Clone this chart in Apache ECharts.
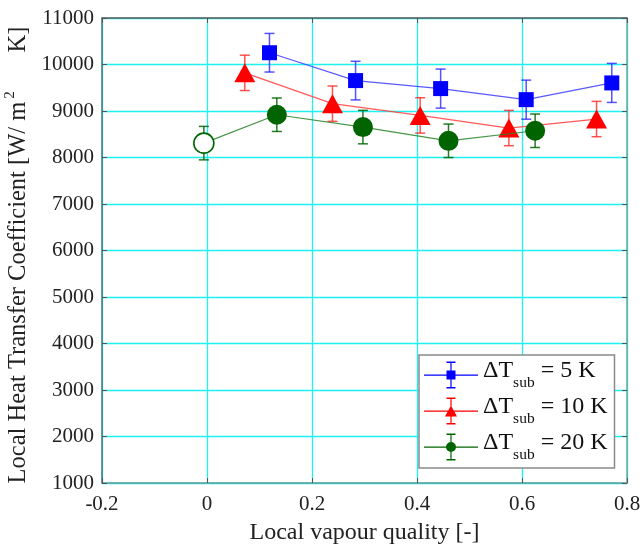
<!DOCTYPE html>
<html>
<head>
<meta charset="utf-8">
<script src="https://cdn.jsdelivr.net/npm/echarts@6/dist/echarts.min.js"></script>
<style>html,body{margin:0;padding:0;background:#fff}#c{width:640px;height:549px}</style>
</head>
<body>
<div id="c"></div>
<script>
// ---- data ----
const blueX = [0.119, 0.283, 0.445, 0.608, 0.771];
const blueY = [10253, 9654, 9482, 9244, 9604];
const blueErr = [415, 415, 420, 420, 420];

const redX = [0.072, 0.239, 0.406, 0.575, 0.742];
const redY = [9820, 9158, 8905, 8633, 8827];
const redErr = [380, 380, 380, 380, 380];

const greenX = [-0.006, 0.133, 0.297, 0.460, 0.625];
const greenY = [8309, 8920, 8654, 8359, 8575];
const greenErr = [360, 360, 360, 360, 360];

const legendLabels = ['5 K', '10 K', '20 K'];
const seriesNames = ['dT5', 'dT10', 'dT20'];

// ---- build ----
const FONT = 'Liberation Serif';
function pts(xs, ys) { return xs.map((x, i) => [x, ys[i]]); }
function errs(xs, ys, es) { return xs.map((x, i) => [x, ys[i] - es[i], ys[i] + es[i]]); }

function errRender(color) {
  return function (params, api) {
    const x = api.value(0), lo = api.value(1), hi = api.value(2);
    const a = api.coord([x, lo]), b = api.coord([x, hi]);
    const hw = 5;
    const st = { stroke: color, lineWidth: 1.5 };
    return {
      type: 'group',
      children: [
        { type: 'line', shape: { x1: a[0], y1: a[1], x2: b[0], y2: b[1] }, style: st },
        { type: 'line', shape: { x1: a[0] - hw, y1: a[1], x2: a[0] + hw, y2: a[1] }, style: st },
        { type: 'line', shape: { x1: b[0] - hw, y1: b[1], x2: b[0] + hw, y2: b[1] }, style: st }
      ]
    };
  };
}

const cols = { blue: '#0000ff', red: '#ff0000', green: '#006400' };
const lineCols = { blue: 'rgba(60,60,255,0.85)', red: 'rgba(255,60,60,0.85)', green: 'rgba(40,130,40,0.85)' };
const errCols = { blue: 'rgba(40,40,255,0.8)', red: 'rgba(255,40,40,0.8)', green: 'rgba(0,100,0,0.85)' };

const barH = 'M0 13 H54 V14.2 H0 Z ';
const errV = 'M26.4 0 H27.6 V27 H26.4 Z M22.5 0 H31.5 V1.4 H22.5 Z M22.5 25.6 H31.5 V27 H22.5 Z ';
const iconSquare = 'path://' + barH + errV + 'M22.5 9 H31.5 V18 H22.5 Z';
const iconTri = 'path://' + barH + errV + 'M21 19 L27 8 L33 19 Z';
const iconCirc = 'path://' + barH + errV + 'M22 13.5 A5 5 0 1 1 32 13.5 A5 5 0 1 1 22 13.5 Z';

const greenData = pts(greenX, greenY).map((p, i) => i === 0
  ? { value: p, itemStyle: { color: '#ffffff', borderColor: cols.green, borderWidth: 1.6 } }
  : p);

const chart = echarts.init(document.getElementById('c'), null, { renderer: 'canvas' });
chart.setOption({
  animation: false,
  backgroundColor: '#ffffff',
  textStyle: { fontFamily: FONT },
  grid: { left: 102, right: 13, top: 18, bottom: 66, containLabel: false, outerBoundsMode: 'none' },
  xAxis: [{
    type: 'value', min: -0.2, max: 0.8, interval: 0.2, position: 'bottom',
    axisLine: { show: true, onZero: false, lineStyle: { color: '#5f9c9c', width: 1.5 } },
    axisTick: { show: true, inside: true, length: 5, lineStyle: { color: '#555' } },
    axisLabel: { fontFamily: FONT, fontSize: 21, color: '#222', margin: 11,
      formatter: v => (Math.round(v * 10) / 10).toString() },
    splitLine: { show: true, lineStyle: { color: '#1ff0f0', width: 1.3 } },
    name: 'Local vapour quality [-]', nameLocation: 'middle', nameGap: 38,
    nameTextStyle: { fontFamily: FONT, fontSize: 24, color: '#222', verticalAlign: 'top' }
  }, {
    type: 'value', min: -0.2, max: 0.8, interval: 0.2, position: 'top',
    axisLine: { show: true, onZero: false, lineStyle: { color: '#5a5a5a', width: 1.5 } },
    axisTick: { show: true, inside: true, length: 5, lineStyle: { color: '#555' } },
    axisLabel: { show: false }, splitLine: { show: false }
  }],
  yAxis: [{
    type: 'value', min: 1000, max: 11000, interval: 1000, position: 'left',
    axisLine: { show: true, onZero: false, lineStyle: { color: '#4a7575', width: 1.5 } },
    axisTick: { show: true, inside: true, length: 5, lineStyle: { color: '#555' } },
    axisLabel: { fontFamily: FONT, fontSize: 21, color: '#222', margin: 8,
      formatter: v => String(v) },
    splitLine: { show: true, lineStyle: { color: '#1ff0f0', width: 1.3 } },
    name: '{a|Local Heat Transfer Coefficient [W/ m}{sup|2}{a|      K]}',
    nameLocation: 'middle', nameGap: 58, nameRotate: 90,
    nameTextStyle: {
      fontFamily: FONT, color: '#222', padding: [0, 9, 0, 0],
      rich: {
        a: { fontFamily: FONT, fontSize: 24.5, color: '#222', verticalAlign: 'bottom', lineHeight: 28 },
        sup: { fontFamily: FONT, fontSize: 15, color: '#222', verticalAlign: 'top', lineHeight: 14, padding: [0, 2, 0, 3] }
      }
    }
  }, {
    type: 'value', min: 1000, max: 11000, interval: 1000, position: 'right',
    axisLine: { show: true, onZero: false, lineStyle: { color: '#6aa8a8', width: 1.5 } },
    axisTick: { show: true, inside: true, length: 5, lineStyle: { color: '#555' } },
    axisLabel: { show: false }, splitLine: { show: false }
  }],
  legend: {
    orient: 'vertical', left: 419, top: 355,
    backgroundColor: '#ffffff', borderColor: '#8a8a8a', borderWidth: 1.5, borderRadius: 0,
    padding: [4, 7, 5, 5], itemGap: 4, itemWidth: 54, itemHeight: 27,
    selectedMode: false,
    itemStyle: { borderWidth: 0 },
    data: [
      { name: seriesNames[0], icon: iconSquare },
      { name: seriesNames[1], icon: iconTri },
      { name: seriesNames[2], icon: iconCirc }
    ],
    formatter: function (name) {
      const i = seriesNames.indexOf(name);
      return '{a|\u0394T}{s|sub}{a| = ' + legendLabels[i] + '}';
    },
    textStyle: {
      fontFamily: FONT, color: '#111',
      rich: {
        a: { fontFamily: FONT, fontSize: 24, color: '#111', verticalAlign: 'top', lineHeight: 32 },
        s: { fontFamily: FONT, fontSize: 15.5, color: '#111', verticalAlign: 'bottom', lineHeight: 32 }
      }
    }
  },
  series: [
    { type: 'custom', name: 'errBlue', renderItem: errRender(errCols.blue), data: errs(blueX, blueY, blueErr), z: 3, encode: { x: 0, y: [1, 2] } },
    { type: 'line', name: seriesNames[0], data: pts(blueX, blueY), symbol: 'rect', symbolSize: 15,
      itemStyle: { color: cols.blue }, lineStyle: { color: lineCols.blue, width: 1.2 }, z: 4 },
    { type: 'custom', name: 'errRed', renderItem: errRender(errCols.red), data: errs(redX, redY, redErr), z: 5, encode: { x: 0, y: [1, 2] } },
    { type: 'line', name: seriesNames[1], data: pts(redX, redY), symbol: 'triangle', symbolSize: [21, 19],
      itemStyle: { color: cols.red }, lineStyle: { color: lineCols.red, width: 1.2 }, z: 6 },
    { type: 'custom', name: 'errGreen', renderItem: errRender(errCols.green), data: errs(greenX, greenY, greenErr), z: 7, encode: { x: 0, y: [1, 2] } },
    { type: 'line', name: seriesNames[2], data: greenData, symbol: 'circle', symbolSize: 20,
      itemStyle: { color: cols.green }, lineStyle: { color: lineCols.green, width: 1.2 }, z: 8 }
  ]
});
</script>
</body>
</html>
